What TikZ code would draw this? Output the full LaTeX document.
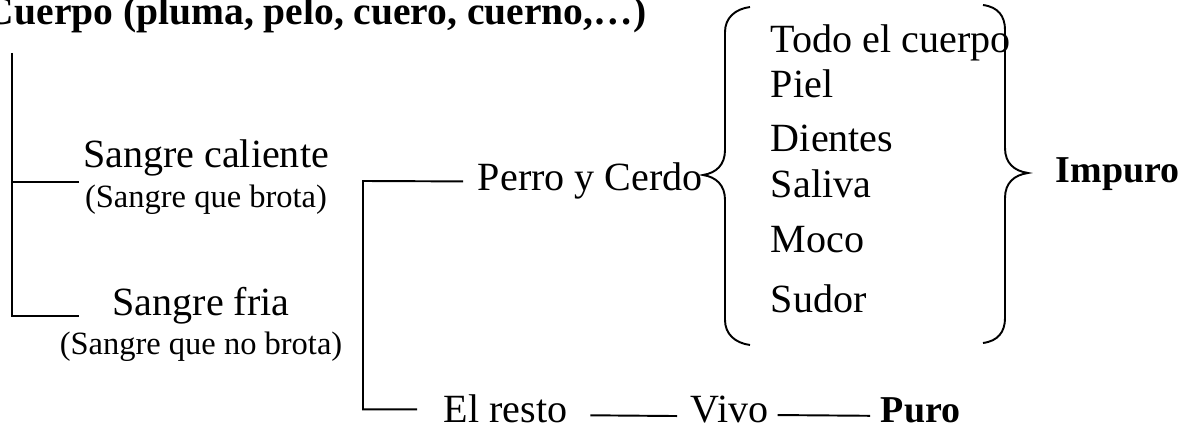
\documentclass[tikz,border=0pt]{standalone}
\usepackage{fontspec}
\setmainfont{Liberation Serif}
\usepackage{tikz}
\usetikzlibrary{positioning}
\usetikzlibrary{calc}

\tikzset{
  txt/.style={inner sep=0pt, font=\fontsize{22.8}{27}\selectfont},
  sub/.style={inner sep=0pt, font=\fontsize{18.5}{22}\selectfont},
  strong/.style={inner sep=0pt, font=\fontsize{21.6}{26}\selectfont\bfseries},
  titulo/.style={inner sep=0pt, font=\fontsize{22.5}{27}\selectfont\bfseries},
}

\begin{document}
\begin{tikzpicture}[x=0.02cm, y=-0.02cm, line width=1.1pt]
      \useasboundingbox (0,0) rectangle (1192,431);
      \node[titulo, anchor=base west] (cuerpo)     at (-15,25)  {Cuerpo (pluma, pelo, cuero, cuerno,…)};
      \node[txt, anchor=base]         (caliente)   at (206,168) {Sangre caliente};
      \node[sub, anchor=base]         (caliente_b) at (206,208) {(Sangre que brota)};
      \node[txt, anchor=base]         (fria)       at (201,316) {Sangre fria};
      \node[sub, anchor=base]         (fria_b)     at (201,355) {(Sangre que no brota)};
      \node[txt, anchor=base west]    (perro)      at (477,191) {Perro y Cerdo};
      \node[txt, anchor=base west]    (resto)      at (443,423) {El resto};
      \node[txt, anchor=base west]    (vivo)       at (690,423) {Vivo};
      \node[strong, anchor=base west] (puro)       at (880,423) {Puro};
      \foreach \n/\y/\t in {todo/53/Todo el cuerpo, piel/98/Piel, dientes/152/Dientes,
                            saliva/198/Saliva, moco/253/Moco, sudor/313/Sudor}
        \node[txt, anchor=base west] (\n) at (770,\y) {\t};
      \node[strong, anchor=base west] (impuro)     at (1055,183) {Impuro};

      \coordinate (bar_1) at (12,53);
      \coordinate (bar_2) at (363,181);
      \draw ([xshift=-0.06cm,yshift=-0.08cm]caliente.south west) -| (bar_1);
      \draw (bar_1) |- ([xshift=-0.66cm]fria.base west);
      \draw ([xshift=-0.28cm]perro.west) -- (bar_2) |- ([xshift=-0.52cm]resto.west);
      \draw ([xshift=0.44cm,yshift=-0.12cm]resto.east) -- ([xshift=-0.26cm,yshift=-0.12cm]vivo.west);
      \draw ([xshift=0.16cm,yshift=-0.1cm]vivo.east) -- ([xshift=-0.2cm,yshift=-0.1cm]puro.west);

      \draw (750,7) .. controls (735,9) and (725,18) .. (725,32) -- (725,150)
            .. controls (725,165) and (716,173) .. (703,175)
            .. controls (716,177) and (725,185) .. (725,200) -- (725,320)
            .. controls (725,334) and (735,343) .. (750,345);
      \draw (983,5) .. controls (998,7) and (1005,16) .. (1005,30) -- (1005,148)
            .. controls (1005,163) and (1014,171) .. (1028,173)
            .. controls (1014,175) and (1005,183) .. (1005,198) -- (1005,318)
            .. controls (1005,332) and (998,341) .. (983,343);
    \end{tikzpicture}
\end{document}
